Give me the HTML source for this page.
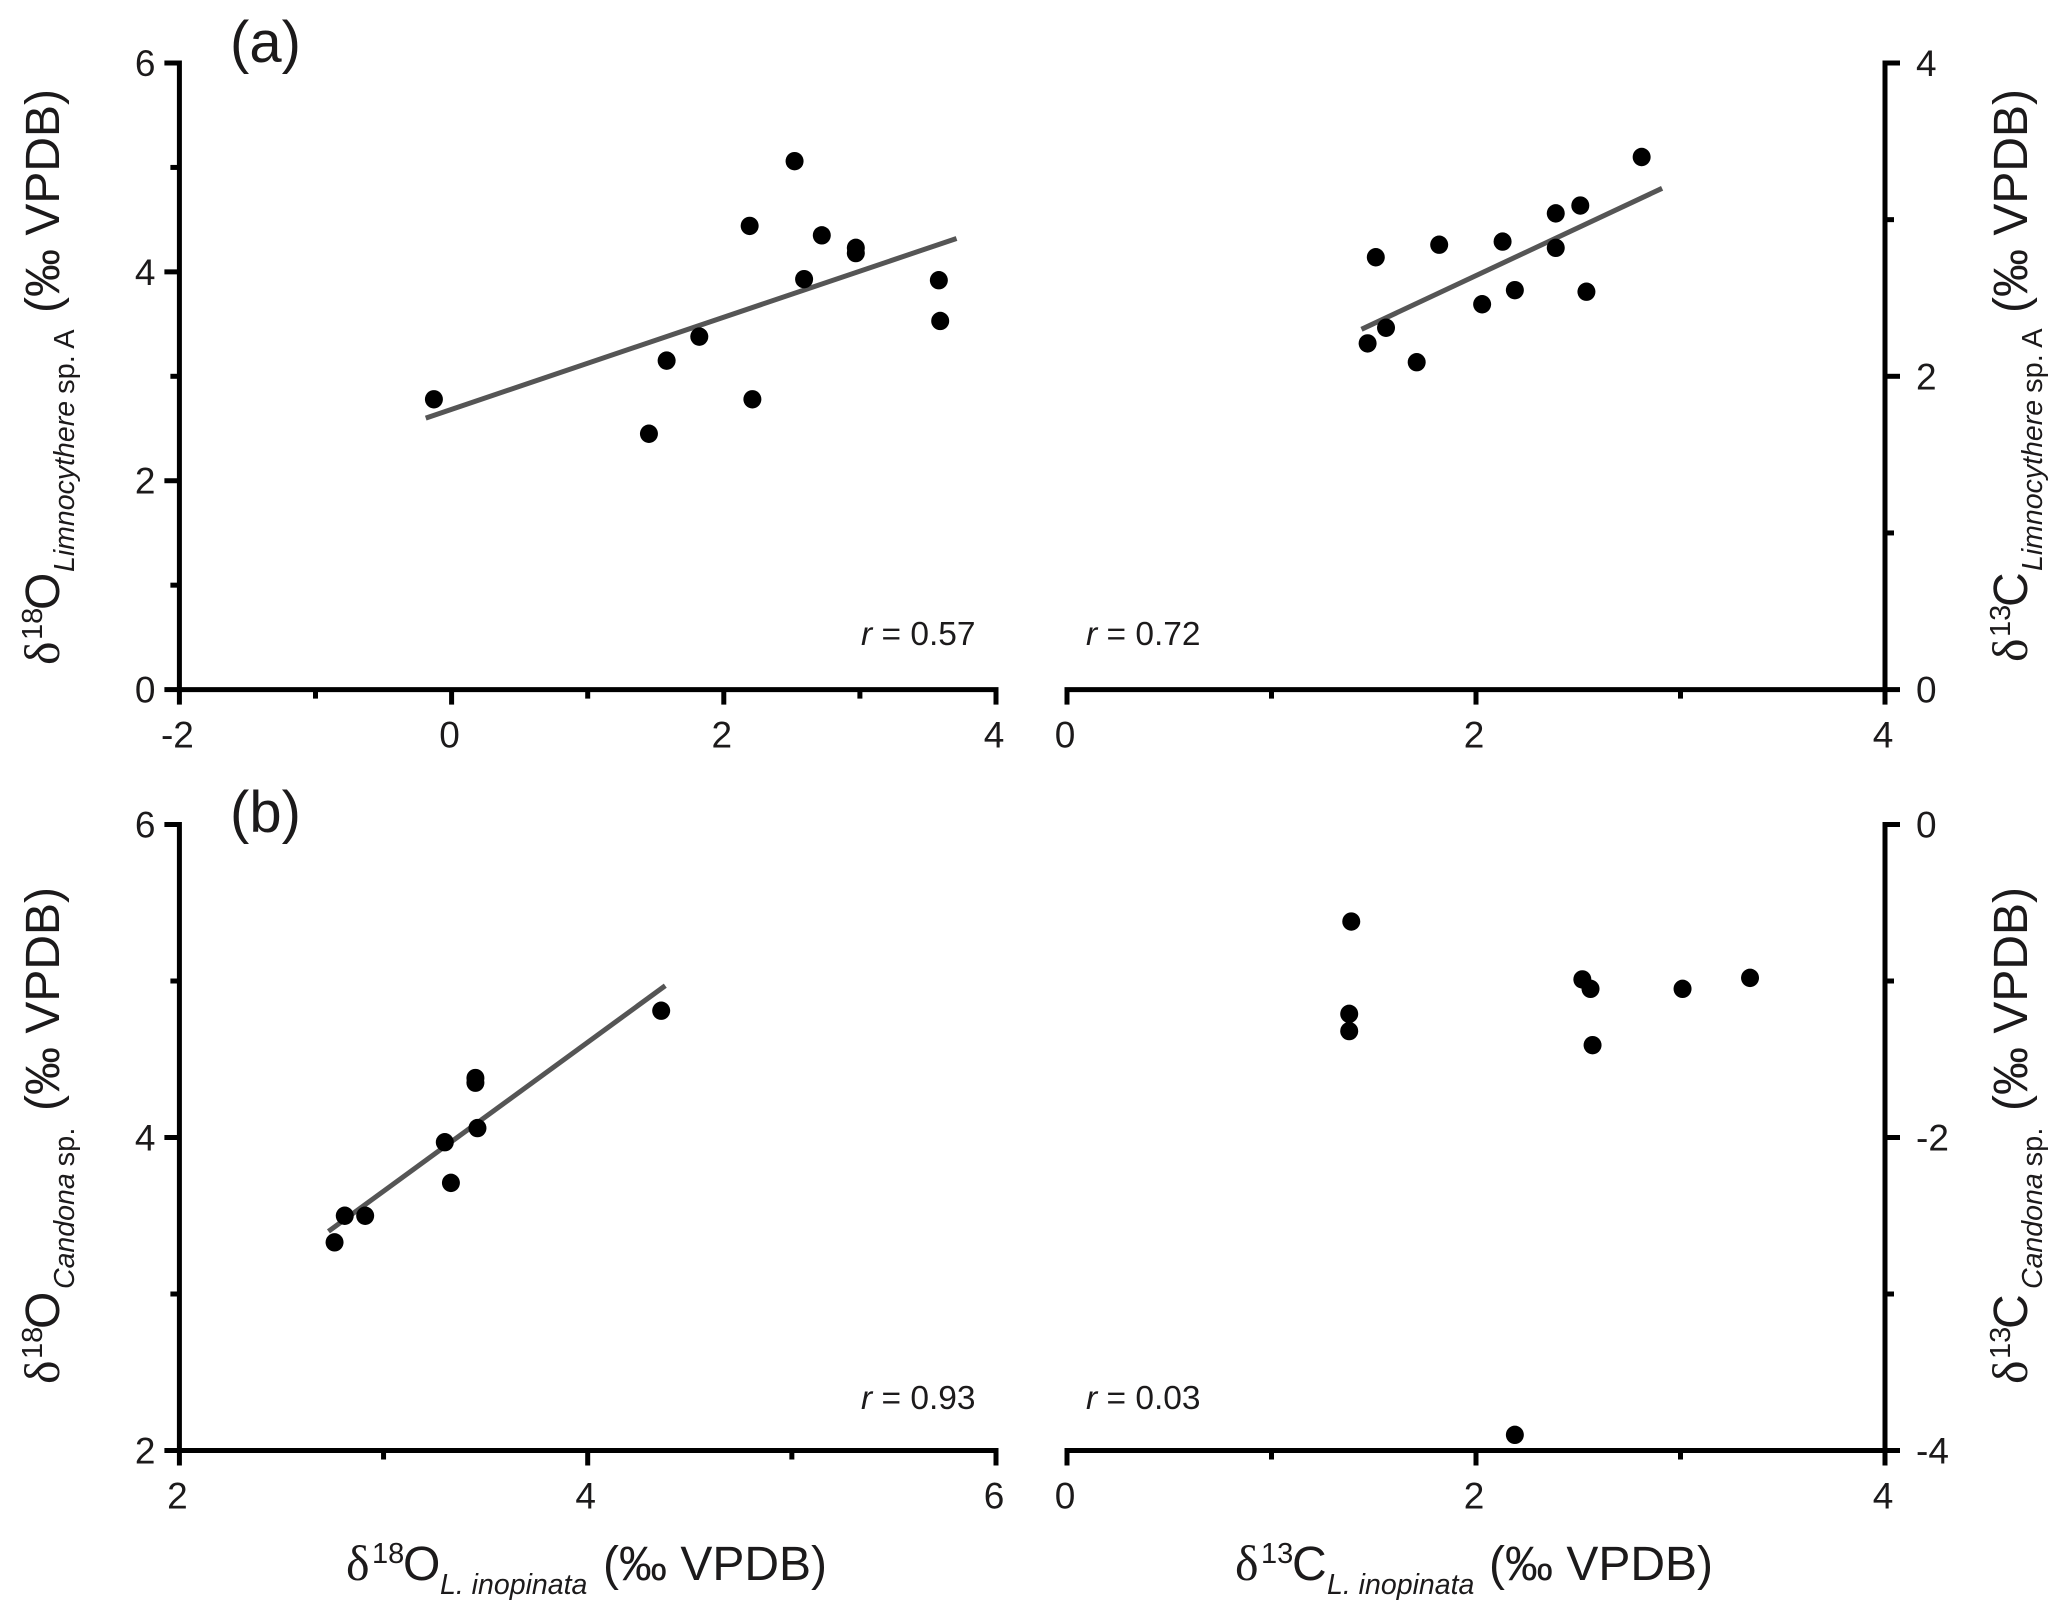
<!DOCTYPE html>
<html lang="en">
<head>
<meta charset="utf-8">
<title>Isotope cross-plots</title>
<style>
html,body{margin:0;padding:0;background:#fff;}
svg{display:block;}
text{font-family:"Liberation Sans",sans-serif;fill:#1c1a1b;}
.d{font-family:"Liberation Serif",serif;font-size:50px;}
.m{font-size:48px;}
.s{font-size:29px;}
.i{font-size:28.5px;font-style:italic;}
.t{font-size:37px;}
.r{font-size:33.5px;}
.p{font-size:58px;}
</style>
</head>
<body>
<svg id="chart" width="2067" height="1622" viewBox="0 0 2067 1622" xmlns="http://www.w3.org/2000/svg">
  <rect width="2067" height="1622" fill="#fff"/>
  <g id="marks"></g>

  <text class="p" x="230" y="62">(a)</text>
  <text class="p" x="230" y="832">(b)</text>

  <text class="r" x="861" y="645"><tspan font-style="italic">r</tspan> = 0.57</text>
  <text class="r" x="1086" y="645"><tspan font-style="italic">r</tspan> = 0.72</text>
  <text class="r" x="861" y="1409"><tspan font-style="italic">r</tspan> = 0.93</text>
  <text class="r" x="1086" y="1409"><tspan font-style="italic">r</tspan> = 0.03</text>

  <g transform="translate(59,665) rotate(-90)">
    <text><tspan class="d" x="0" y="0">δ</tspan><tspan class="s" x="25" y="-17">18</tspan><tspan class="m" x="55" y="0">O</tspan><tspan class="i" x="93" y="15">Limnocythere</tspan><tspan class="s" dx="7" y="15">sp. A</tspan><tspan class="m" x="352" y="0">(‰ VPDB)</tspan></text>
  </g>
  <g transform="translate(2027,662) rotate(-90)">
    <text><tspan class="d" x="0" y="0">δ</tspan><tspan class="s" x="25" y="-17">13</tspan><tspan class="m" x="55" y="0">C</tspan><tspan class="i" x="91" y="15">Limnocythere</tspan><tspan class="s" dx="7" y="15">sp. A</tspan><tspan class="m" x="349" y="0">(‰ VPDB)</tspan></text>
  </g>
  <g transform="translate(59,1384) rotate(-90)">
    <text><tspan class="d" x="0" y="0">δ</tspan><tspan class="s" x="25" y="-17">18</tspan><tspan class="m" x="55" y="0">O</tspan><tspan class="i" x="95" y="15">Candona</tspan><tspan class="s" dx="7" y="15">sp.</tspan><tspan class="m" x="273" y="0">(‰ VPDB)</tspan></text>
  </g>
  <g transform="translate(2027,1384) rotate(-90)">
    <text><tspan class="d" x="0" y="0">δ</tspan><tspan class="s" x="25" y="-17">13</tspan><tspan class="m" x="55" y="0">C</tspan><tspan class="i" x="95" y="15">Candona</tspan><tspan class="s" dx="7" y="15">sp.</tspan><tspan class="m" x="273" y="0">(‰ VPDB)</tspan></text>
  </g>
  <g transform="translate(346,1580)">
    <text><tspan class="d" x="0" y="0">δ</tspan><tspan class="s" x="26" y="-17">18</tspan><tspan class="m" x="57" y="0">O</tspan><tspan class="i" x="94" y="14">L. inopinata</tspan><tspan class="m" x="257" y="0">(‰ VPDB)</tspan></text>
  </g>
  <g transform="translate(1235,1580)">
    <text><tspan class="d" x="0" y="0">δ</tspan><tspan class="s" x="26" y="-17">13</tspan><tspan class="m" x="57" y="0">C</tspan><tspan class="i" x="92" y="14">L. inopinata</tspan><tspan class="m" x="254" y="0">(‰ VPDB)</tspan></text>
  </g>
</svg>
<script>
// Panel (a) oxygen
const aOxygenX = [-0.13, 1.45, 1.58, 1.82, 2.19, 2.21, 2.52, 2.59, 2.72, 2.97, 2.97, 3.58, 3.59];
const aOxygenY = [2.78, 2.45, 3.15, 3.38, 4.44, 2.78, 5.06, 3.93, 4.35, 4.18, 4.23, 3.92, 3.53];
const aOxygenFitX = [-0.19, 3.71];
const aOxygenFitY = [2.60, 4.32];
const aOxygenXTicks = [-2, 0, 2, 4];
const aOxygenXMinor = [-1, 1, 3];
const aOxygenYTicks = [0, 2, 4, 6];
const aOxygenYMinor = [1, 3, 5];

// Panel (a) carbon
const aCarbonX = [1.47, 1.51, 1.56, 1.71, 1.82, 2.03, 2.13, 2.19, 2.39, 2.39, 2.51, 2.54, 2.81];
const aCarbonY = [2.21, 2.76, 2.31, 2.09, 2.84, 2.46, 2.86, 2.55, 3.04, 2.82, 3.09, 2.54, 3.40];
const aCarbonFitX = [1.44, 2.91];
const aCarbonFitY = [2.30, 3.20];
const aCarbonXTicks = [0, 2, 4];
const aCarbonXMinor = [1, 3];
const aCarbonYTicks = [0, 2, 4];
const aCarbonYMinor = [1, 3];

// Panel (b) oxygen
const bOxygenX = [2.76, 2.81, 2.91, 3.30, 3.33, 3.45, 3.45, 3.46, 4.36];
const bOxygenY = [3.33, 3.50, 3.50, 3.97, 3.71, 4.38, 4.35, 4.06, 4.81];
const bOxygenFitX = [2.73, 4.38];
const bOxygenFitY = [3.40, 4.97];
const bOxygenXTicks = [2, 4, 6];
const bOxygenXMinor = [3, 5];
const bOxygenYTicks = [2, 4, 6];
const bOxygenYMinor = [3, 5];

// Panel (b) carbon
const bCarbonX = [1.39, 1.38, 1.38, 2.52, 2.56, 3.01, 3.34, 2.57, 2.19];
const bCarbonY = [-0.62, -1.21, -1.32, -0.99, -1.05, -1.05, -0.98, -1.41, -3.90];
const bCarbonXTicks = [0, 2, 4];
const bCarbonXMinor = [1, 3];
const bCarbonYTicks = [-4, -2, 0];
const bCarbonYMinor = [-3, -1];

const NS = 'http://www.w3.org/2000/svg';
const root = document.getElementById('marks');

function make(tag, attrs) {
  const el = document.createElementNS(NS, tag);
  for (const k in attrs) el.setAttribute(k, attrs[k]);
  root.appendChild(el);
  return el;
}

function scale(d0, d1, r0, r1) {
  return function (v) { return r0 + (v - d0) / (d1 - d0) * (r1 - r0); };
}

function drawPanel(o) {
  const sx = scale(o.xDom[0], o.xDom[1], o.left, o.right);
  const sy = scale(o.yDom[0], o.yDom[1], o.bottom, o.top);
  const axisX = o.side === 'left' ? o.left : o.right;
  const dir = o.side === 'left' ? -1 : 1;

  const xAxis = make('line', {x1: o.left - 2.5, x2: o.right + 2.5, y1: o.bottom, y2: o.bottom, stroke: '#000', 'stroke-width': 5});
  
  

  const yAxis = make('line', {x1: axisX, x2: axisX, y1: o.top - 2.5, y2: o.bottom + 2.5, stroke: '#000', 'stroke-width': 5});
  
  

  o.xTicks.forEach(function (v) {
    const t = make('line', {x1: sx(v), x2: sx(v), y1: o.bottom, y2: o.bottom + 15, stroke: '#000', 'stroke-width': 5});
    
    
    const l = make('text', {x: sx(v) - 2, y: o.bottom + 58, 'text-anchor': 'middle', 'class': 't'});
    l.textContent = String(v);
    
    
  });
  o.xMinor.forEach(function (v) {
    const t = make('line', {x1: sx(v), x2: sx(v), y1: o.bottom, y2: o.bottom + 9, stroke: '#000', 'stroke-width': 5});
    
    
  });
  o.yTicks.forEach(function (v) {
    const t = make('line', {x1: axisX, x2: axisX + dir * 15, y1: sy(v), y2: sy(v), stroke: '#000', 'stroke-width': 5});
    
    
    const l = make('text', {x: o.side === 'left' ? axisX - 24 : axisX + 31, y: sy(v) + 13, 'text-anchor': o.side === 'left' ? 'end' : 'start', 'class': 't'});
    l.textContent = String(v);
    
    
  });
  o.yMinor.forEach(function (v) {
    const t = make('line', {x1: axisX, x2: axisX + dir * 9, y1: sy(v), y2: sy(v), stroke: '#000', 'stroke-width': 5});
    
    
  });
  if (o.fitX) {
    const f = make('line', {x1: sx(o.fitX[0]), y1: sy(o.fitY[0]), x2: sx(o.fitX[1]), y2: sy(o.fitY[1]), stroke: '#555', 'stroke-width': 5});
    
    
  }
  o.x.forEach(function (v, i) {
    const c = make('ellipse', {cx: sx(v), cy: sy(o.y[i]), rx: 9, ry: 9.2, fill: '#000'});
    
    
  });
}

drawPanel({name: 'a-oxygen', side: 'left', left: 179.4, right: 996, top: 63, bottom: 689.6,
  xDom: [-2, 4], yDom: [0, 6], x: aOxygenX, y: aOxygenY, fitX: aOxygenFitX, fitY: aOxygenFitY,
  xTicks: aOxygenXTicks, xMinor: aOxygenXMinor, yTicks: aOxygenYTicks, yMinor: aOxygenYMinor});
drawPanel({name: 'a-carbon', side: 'right', left: 1067, right: 1885, top: 63, bottom: 689.6,
  xDom: [0, 4], yDom: [0, 4], x: aCarbonX, y: aCarbonY, fitX: aCarbonFitX, fitY: aCarbonFitY,
  xTicks: aCarbonXTicks, xMinor: aCarbonXMinor, yTicks: aCarbonYTicks, yMinor: aCarbonYMinor});
drawPanel({name: 'b-oxygen', side: 'left', left: 179.4, right: 996, top: 824.5, bottom: 1450.5,
  xDom: [2, 6], yDom: [2, 6], x: bOxygenX, y: bOxygenY, fitX: bOxygenFitX, fitY: bOxygenFitY,
  xTicks: bOxygenXTicks, xMinor: bOxygenXMinor, yTicks: bOxygenYTicks, yMinor: bOxygenYMinor});
drawPanel({name: 'b-carbon', side: 'right', left: 1067, right: 1885, top: 824.5, bottom: 1450.5,
  xDom: [0, 4], yDom: [-4, 0], x: bCarbonX, y: bCarbonY,
  xTicks: bCarbonXTicks, xMinor: bCarbonXMinor, yTicks: bCarbonYTicks, yMinor: bCarbonYMinor});
</script>
</body>
</html>
